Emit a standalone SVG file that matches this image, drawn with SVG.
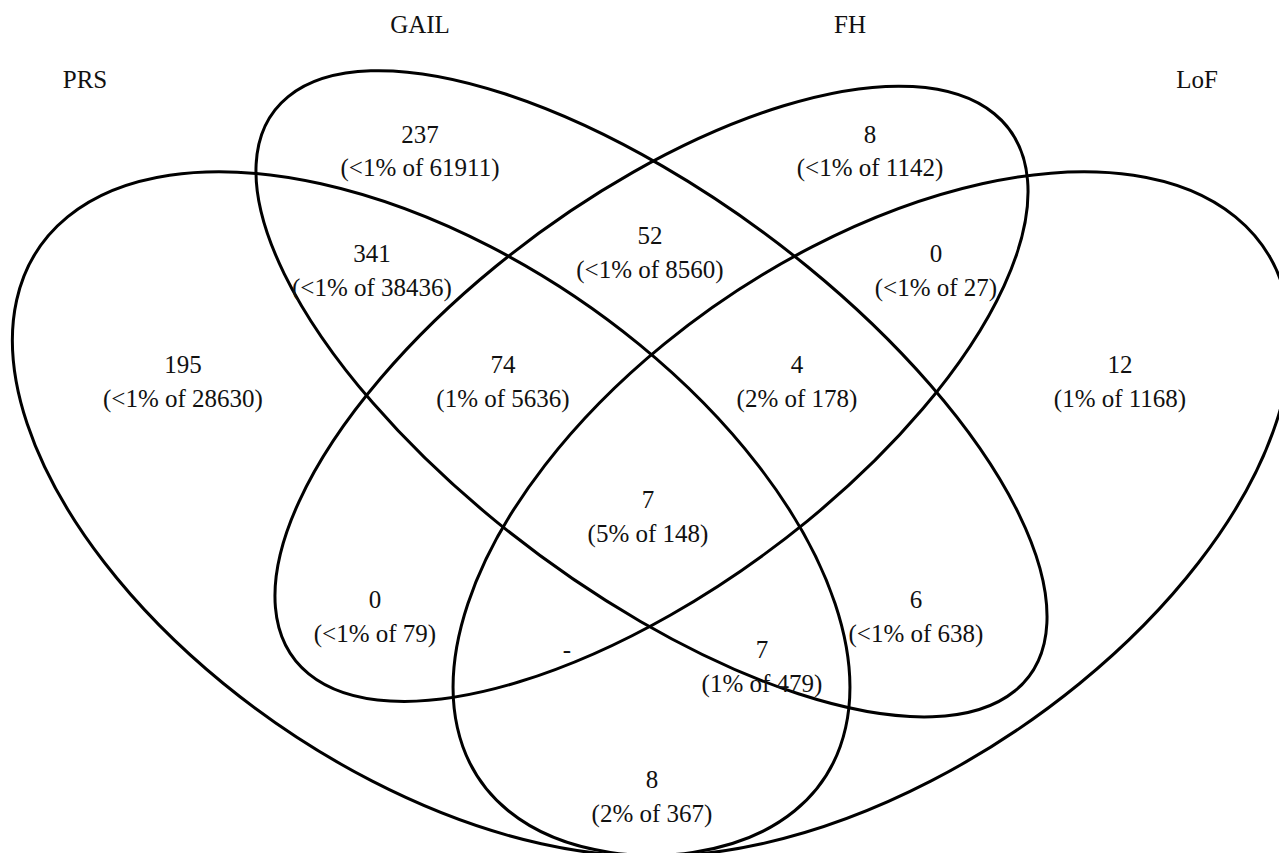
<svg xmlns="http://www.w3.org/2000/svg" width="1279" height="853" viewBox="0 0 1279 853">
<style>
.set{fill:none;stroke:#000;stroke-width:3;vector-effect:non-scaling-stroke}
.t{font-family:'Liberation Serif','Times New Roman','DejaVu Serif',serif;font-size:25px;fill:#111;text-anchor:middle}
</style>
<rect width="1279" height="853" fill="#fff"/>
<g id="sets" transform="matrix(1469 0 0 -1200 -83 1077.8)">
<g id="set-PRS"><ellipse class="set" cx="0" cy="0" rx="0.35" ry="0.20" transform="translate(0.35 0.47) rotate(135)"/></g>
<g id="set-GAIL"><ellipse class="set" cx="0" cy="0" rx="0.35" ry="0.15" transform="translate(0.50 0.57) rotate(135)"/></g>
<g id="set-FH"><ellipse class="set" cx="0" cy="0" rx="0.33" ry="0.15" transform="translate(0.50 0.57) rotate(45)"/></g>
<g id="set-LoF"><ellipse class="set" cx="0" cy="0" rx="0.35" ry="0.20" transform="translate(0.65 0.47) rotate(45)"/></g>
</g>
<g class="t" font-family="'Liberation Serif', 'Times New Roman', serif">
<g id="set-labels">
<text x="420" y="33">GAIL</text>
<text x="850" y="33">FH</text>
<text x="85" y="88">PRS</text>
<text x="1197" y="88">LoF</text>
</g>
<g id="r-GAIL"><text x="420" y="143">237</text><text x="420" y="176">(&lt;1% of 61911)</text></g>
<g id="r-FH"><text x="870" y="143">8</text><text x="870" y="176">(&lt;1% of 1142)</text></g>
<g id="r-PRS-GAIL"><text x="372" y="262">341</text><text x="372" y="296">(&lt;1% of 38436)</text></g>
<g id="r-GAIL-FH"><text x="650" y="244">52</text><text x="650" y="278">(&lt;1% of 8560)</text></g>
<g id="r-FH-LoF"><text x="936" y="262">0</text><text x="936" y="296">(&lt;1% of 27)</text></g>
<g id="r-PRS"><text x="183" y="373">195</text><text x="183" y="407">(&lt;1% of 28630)</text></g>
<g id="r-PRS-GAIL-FH"><text x="503" y="373">74</text><text x="503" y="407">(1% of 5636)</text></g>
<g id="r-GAIL-FH-LoF"><text x="797" y="373">4</text><text x="797" y="407">(2% of 178)</text></g>
<g id="r-LoF"><text x="1120" y="373">12</text><text x="1120" y="407">(1% of 1168)</text></g>
<g id="r-all"><text x="648" y="508">7</text><text x="648" y="542">(5% of 148)</text></g>
<g id="r-PRS-FH"><text x="375" y="608">0</text><text x="375" y="642">(&lt;1% of 79)</text></g>
<g id="r-GAIL-LoF"><text x="916" y="608">6</text><text x="916" y="642">(&lt;1% of 638)</text></g>
<g id="r-PRS-FH-LoF"><text x="567" y="658">-</text></g>
<g id="r-PRS-GAIL-LoF"><text x="762" y="658">7</text><text x="762" y="692">(1% of 479)</text></g>
<g id="r-PRS-LoF"><text x="652" y="788">8</text><text x="652" y="822">(2% of 367)</text></g>
</g>
</svg>
